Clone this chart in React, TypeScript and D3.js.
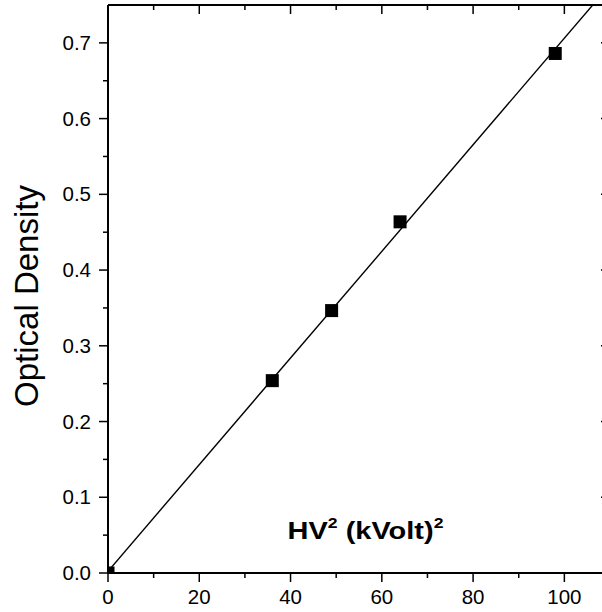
import React from "react";
import * as d3 from "d3";

// Measured points: HV^2 in (kVolt)^2 against optical density
const hvSquared = [0, 36, 49, 64, 98];
const opticalDensity = [0, 0.254, 0.3465, 0.4637, 0.686];

const xMajorTicks = [0, 20, 40, 60, 80, 100];
const xMinorTicks = [10, 30, 50, 70, 90];
const yMajorTicks = [0, 0.1, 0.2, 0.3, 0.4, 0.5, 0.6, 0.7];
const yMinorTicks = [0.05, 0.15, 0.25, 0.35, 0.45, 0.55, 0.65];

const W = 602;
const H = 612;
const margin = { left: 108, top: 5, right: -8, bottom: 39 };
const FONT = "'Liberation Sans', Arial, sans-serif";

export default function App() {
  const x = d3.scaleLinear().domain([0, 110]).range([margin.left, W - margin.right]);
  const y = d3.scaleLinear().domain([0, 0.75]).range([H - margin.bottom, margin.top]);

  const [x0, x1] = x.range();
  const [yb, yt] = y.range();

  // least-squares linear fit through the points
  const pts = hvSquared.map((v, i) => [v, opticalDensity[i]] as [number, number]);
  const mx = d3.mean(pts, (p) => p[0]) as number;
  const my = d3.mean(pts, (p) => p[1]) as number;
  const sxy = d3.sum(pts, (p) => (p[0] - mx) * (p[1] - my));
  const sxx = d3.sum(pts, (p) => (p[0] - mx) ** 2);
  const slope = sxy / sxx;
  const intercept = my - slope * mx;
  const fitLine = d3
    .line<number>()
    .x((v) => x(v))
    .y((v) => y(intercept + slope * v));

  const major = 9;
  const minor = 5;
  const sq = 13;

  return (
    <svg width={W} height={H} style={{ position: "absolute", left: 0, top: 0, background: "#fff" }}>
      <defs>
        <clipPath id="plot">
          <rect x={x0} y={yt} width={x1 - x0} height={yb - yt} />
        </clipPath>
      </defs>
      <rect width={W} height={H} fill="#fff" />

      <g clipPath="url(#plot)">
        <path d={fitLine([0, 110]) || ""} fill="none" stroke="#000" strokeWidth={1.4} />
        {pts.map((p, i) => (
          <rect
            key={i}
            x={x(p[0]) - sq / 2}
            y={y(p[1]) - sq / 2}
            width={sq}
            height={sq}
            fill="#000"
          />
        ))}
      </g>

      {/* frame */}
      <g stroke="#000" strokeWidth={2} fill="none">
        <line x1={x0} x2={x0} y1={yt} y2={yb} />
        <line x1={x0} x2={x1} y1={yb} y2={yb} />
        <line x1={x0} x2={x1} y1={yt} y2={yt} />
        <line x1={x1} x2={x1} y1={yt} y2={yb} />
      </g>

      {/* ticks on all four sides */}
      <g stroke="#000" strokeWidth={1.5}>
        {xMajorTicks.map((t) => (
          <React.Fragment key={"xb" + t}>
            <line x1={x(t)} x2={x(t)} y1={yb} y2={yb + major} />
            <line x1={x(t)} x2={x(t)} y1={yt} y2={yt + major} />
          </React.Fragment>
        ))}
        {xMinorTicks.map((t) => (
          <React.Fragment key={"xm" + t}>
            <line x1={x(t)} x2={x(t)} y1={yb} y2={yb + minor} />
            <line x1={x(t)} x2={x(t)} y1={yt} y2={yt + minor} />
          </React.Fragment>
        ))}
        {yMajorTicks.map((t) => (
          <React.Fragment key={"ym" + t}>
            <line x1={x0 - major} x2={x0} y1={y(t)} y2={y(t)} />
            <line x1={x1 - major} x2={x1} y1={y(t)} y2={y(t)} />
          </React.Fragment>
        ))}
        {yMinorTicks.map((t) => (
          <React.Fragment key={"yn" + t}>
            <line x1={x0 - minor} x2={x0} y1={y(t)} y2={y(t)} />
            <line x1={x1 - minor} x2={x1} y1={y(t)} y2={y(t)} />
          </React.Fragment>
        ))}
      </g>

      {/* tick labels */}
      <g fontFamily={FONT} fontSize={20.5} fill="#000">
        {xMajorTicks.map((t) => (
          <text key={"xl" + t} x={x(t)} y={yb + 31} textAnchor="middle">
            {t}
          </text>
        ))}
        {yMajorTicks.map((t) => (
          <text key={"yl" + t} x={x0 - 17} y={y(t) + 7} textAnchor="end">
            {d3.format(".1f")(t)}
          </text>
        ))}
      </g>

      {/* axis titles */}
      <text
        transform={`translate(37.5, 296) rotate(-90)`}
        textAnchor="middle"
        fontFamily={FONT}
        fontSize={33}
        fill="#000"
      >
        Optical Density
      </text>
      <text
        transform="translate(365.5, 539) scale(1.26, 1)"
        textAnchor="middle"
        fontFamily={FONT}
        fontSize={23}
        fontWeight="bold"
        fill="#000"
      >
        HV<tspan dy={-11} fontSize={14}>2</tspan>
        <tspan dy={11}> (kVolt)</tspan>
        <tspan dy={-11} fontSize={14}>2</tspan>
      </text>
    </svg>
  );
}
